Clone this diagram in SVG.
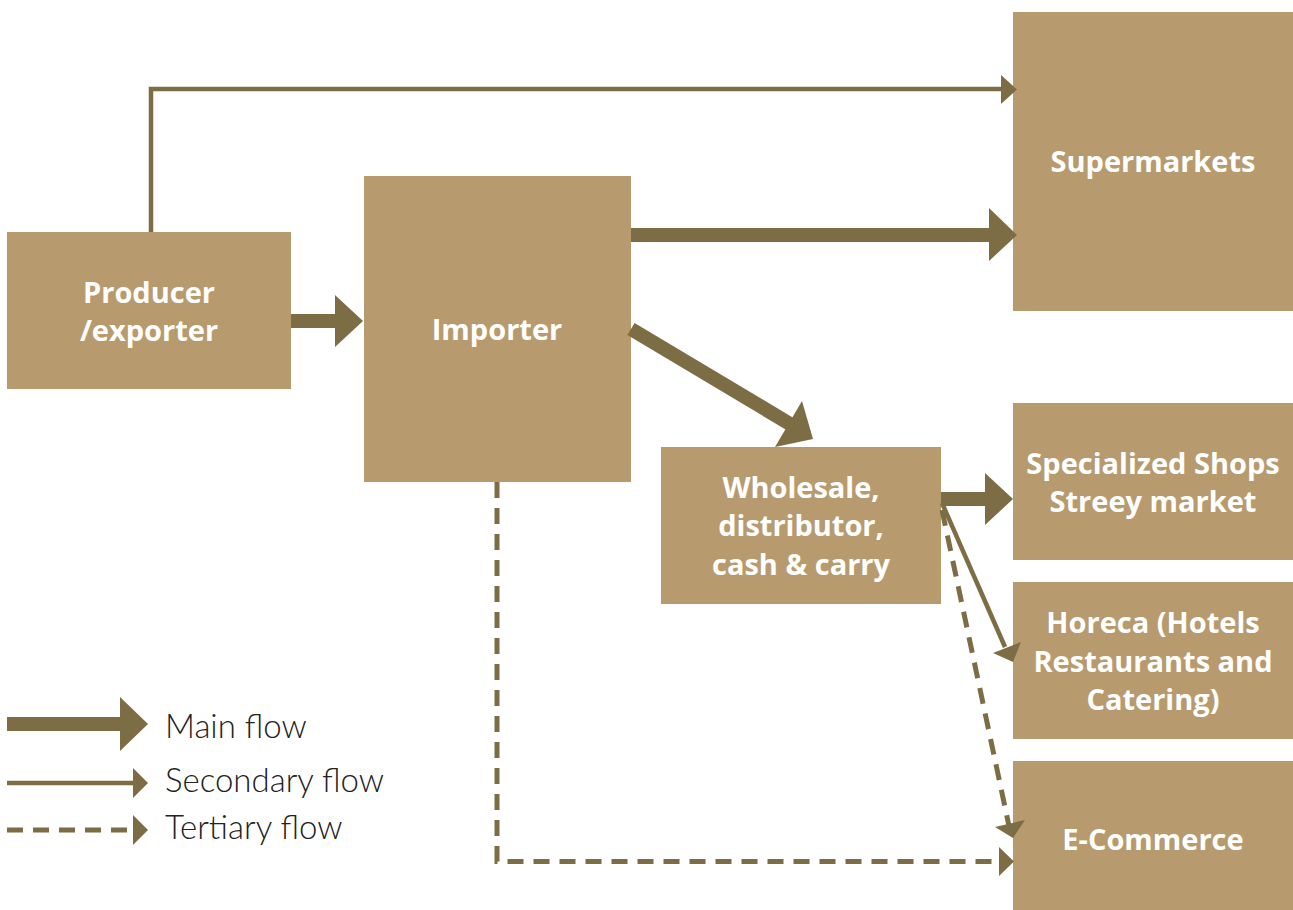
<svg xmlns="http://www.w3.org/2000/svg" width="1293" height="910" viewBox="0 0 1293 910">
<style>
.box{fill:#b79b6e}
.lbl{fill:#ffffff;font-family:"Open Sans","Liberation Sans",sans-serif;font-weight:bold;font-size:29px;text-anchor:middle}
.leg{fill:#222222;font-family:Lato,"Liberation Sans",sans-serif;font-weight:300;font-size:33px}
.main{stroke:#7d6d44;stroke-width:14;fill:none}
.sec{stroke:#7d6d44;stroke-width:4.5;fill:none}
.ter{stroke:#7d6d44;stroke-width:5;fill:none;stroke-dasharray:16 10}
.head{fill:#7d6d44}
</style>
<rect width="1293" height="910" fill="#ffffff"/>
<g id="producer"><rect class="box" x="7" y="232" width="284" height="157"/>
<text class="lbl" x="149" y="303">Producer</text><text class="lbl" x="149" y="341">/exporter</text></g>
<g id="importer"><rect class="box" x="364" y="176" width="267" height="306"/>
<text class="lbl" x="497" y="340">Importer</text></g>
<g id="supermarkets"><rect class="box" x="1013" y="12" width="280" height="299"/>
<text class="lbl" x="1153" y="172">Supermarkets</text></g>
<g id="wholesale"><rect class="box" x="661" y="447" width="280" height="157"/>
<text class="lbl" x="801" y="498">Wholesale,</text><text class="lbl" x="801" y="536">distributor,</text><text class="lbl" x="801" y="575">cash &amp; carry</text></g>
<g id="specialized"><rect class="box" x="1013" y="403" width="280" height="157"/>
<text class="lbl" x="1153" y="474">Specialized Shops</text><text class="lbl" x="1153" y="512">Streey market</text></g>
<g id="horeca"><rect class="box" x="1013" y="582" width="280" height="157"/>
<text class="lbl" x="1153" y="633">Horeca (Hotels</text><text class="lbl" x="1153" y="672">Restaurants and</text><text class="lbl" x="1153" y="710">Catering)</text></g>
<g id="ecommerce"><rect class="box" x="1013" y="761" width="280" height="149"/>
<text class="lbl" x="1153" y="850">E-Commerce</text></g>
<g id="connectors">
<path class="main" d="M291 321H336"/><polygon class="head" points="335,295 363,321 335,347"/>
<path class="main" d="M631 235H990"/><polygon class="head" points="989,208 1017,235 989,261"/>
<path class="main" d="M631 329L790 424"/><polygon class="head" points="802,401 813,439 775,447"/>
<path class="main" d="M941 499H986"/><polygon class="head" points="985,473 1013,499 985,525"/>
<path class="sec" d="M151 232V89H1002"/><polygon class="head" points="1001,75 1017,89.5 1001,104"/>
<path class="sec" d="M942 503L1005 647"/><polygon class="head" points="993,653 1021,642 1013,662"/>
<path class="ter" d="M942 510L1009 826"/><polygon class="head" points="995,827 1025,820 1013,838"/>
<path class="ter" d="M497 482V861.5H1000"/><polygon class="head" points="999,847 1014,861.5 999,876"/>
</g>
<g id="legend">
<path class="main" d="M7 724H121"/><polygon class="head" points="120,697 148,724 120,751"/>
<text class="leg" x="165" y="738">Main flow</text>
<path class="sec" d="M7 783H134"/><polygon class="head" points="133,768 148,783 133,798"/>
<text class="leg" x="165" y="792">Secondary flow</text>
<path class="ter" d="M7 830H134" stroke-dasharray="18 10"/><polygon class="head" points="133,815 148,830 133,845"/>
<text class="leg" x="165" y="839">Tertiary flow</text>
</g>
</svg>
